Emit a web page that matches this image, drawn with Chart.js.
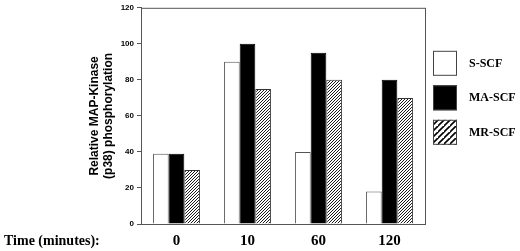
<!DOCTYPE html>
<html lang="en">
<head>
  <meta charset="UTF-8" />
  <title>MAP-Kinase (p38) phosphorylation</title>
  <script src="https://cdn.jsdelivr.net/npm/chart.js"></script>
  <style>
    * { margin: 0; padding: 0; box-sizing: border-box; }
    body { background: #fff; width: 520px; height: 251px; overflow: hidden; }
    #wrap { position: relative; width: 520px; height: 251px; }
  </style>
</head>
<body>
  <div id="wrap"><canvas id="chart"></canvas></div>

  <script>
    // Datos
    const tiempos = ['0', '10', '60', '120'];
    const sSCF = [39, 90, 40, 18];
    const maSCF = [39, 100, 95, 80];
    const mrSCF = [30, 75, 80, 70];
    const yTicks = [0, 20, 40, 60, 80, 100, 120];

    // Rayado diagonal
    function rayado(paso, grosor) {
      const c = document.createElement('canvas');
      c.width = paso; c.height = paso;
      const g = c.getContext('2d');
      g.fillStyle = '#fff';
      g.fillRect(0, 0, paso, paso);
      g.strokeStyle = '#000';
      g.lineWidth = grosor;
      g.beginPath();
      g.moveTo(-1, paso + 1); g.lineTo(paso + 1, -1);
      g.moveTo(-paso - 1, paso + 1); g.lineTo(1, -1);
      g.moveTo(paso - 1, 2 * paso + 1); g.lineTo(2 * paso + 1, paso - 1);
      g.stroke();
      return g.createPattern(c, 'repeat');
    }
    const rayaBarra = rayado(3, 0.9);
    const rayaLeyenda = rayado(6, 1.6);

    const leyenda = {
      id: 'leyenda',
      afterDraw(chart) {
        const { ctx, chartArea } = chart;
        ctx.save();
        // marco del area
        ctx.strokeStyle = '#555';
        ctx.lineWidth = 1;
        ctx.strokeRect(chartArea.left + 0.5, chartArea.top + 0.5,
          chartArea.right - chartArea.left, chartArea.bottom - chartArea.top);

        const fondos = ['#fff', '#000', rayaLeyenda];
        const x = chartArea.right + 8;
        chart.data.datasets.forEach((ds, i) => {
          const y = chartArea.top + 43 + i * 34.5;
          ctx.fillStyle = fondos[i];
          ctx.fillRect(x, y, 24, 25);
          ctx.strokeStyle = '#444';
          ctx.strokeRect(x + 0.5, y + 0.5, 23, 24);
          ctx.fillStyle = '#000';
          ctx.font = 'bold 12px "Liberation Serif", serif';
          ctx.textBaseline = 'middle';
          ctx.textAlign = 'left';
          ctx.fillText(ds.label, x + 36, y + 13);
        });

        // etiqueta del eje x
        ctx.font = 'bold 14px "Liberation Serif", serif';
        ctx.textBaseline = 'middle';
        ctx.fillText('Time (minutes):', 4, 241);
        ctx.restore();
      }
    };

    const chart = new Chart(document.getElementById('chart'), {
      type: 'bar',
      data: {
        labels: tiempos,
        datasets: [
          { label: 'S-SCF', data: sSCF, backgroundColor: '#fff', borderColor: '#555', borderWidth: 1 },
          { label: 'MA-SCF', data: maSCF, backgroundColor: '#000', borderColor: '#000', borderWidth: 1 },
          { label: 'MR-SCF', data: mrSCF, backgroundColor: rayaBarra, borderColor: '#333', borderWidth: 1 }
        ]
      },
      options: {
        responsive: true,
        maintainAspectRatio: false,
        animation: false,
        layout: { padding: { left: 88, right: 95, top: 4, bottom: 0 } },
        plugins: { legend: { display: false }, tooltip: { enabled: false } },
        datasets: { bar: { categoryPercentage: 0.66, barPercentage: 1 } },
        scales: {
          x: {
            grid: { display: false, drawTicks: false },
            border: { display: true, color: '#555' },
            ticks: {
              color: '#000',
              padding: 8,
              font: { family: '"Liberation Serif", serif', size: 15, weight: 'bold' }
            },
            afterFit(s) { s.height = 27; }
          },
          y: {
            min: 0,
            max: 120,
            afterBuildTicks(s) { s.ticks = yTicks.map(v => ({ value: v })); },
            grid: { drawOnChartArea: false, tickLength: 4, color: '#555' },
            border: { display: true, color: '#555' },
            ticks: {
              color: '#000',
              padding: 3,
              font: { family: 'Arial, "Liberation Sans", sans-serif', size: 8, weight: 'bold' }
            },
            title: {
              display: true,
              text: ['Relative MAP-Kinase', '(p38) phosphorylation'],
              color: '#000',
              padding: { top: 0, bottom: 6 },
              font: { family: 'Arial, "Liberation Sans", sans-serif', size: 12, weight: 'bold', lineHeight: 1.15 }
            },
            afterFit(s) { s.width = 53; }
          }
        }
      },
      plugins: [leyenda]
    });
  </script>
</body>
</html>
